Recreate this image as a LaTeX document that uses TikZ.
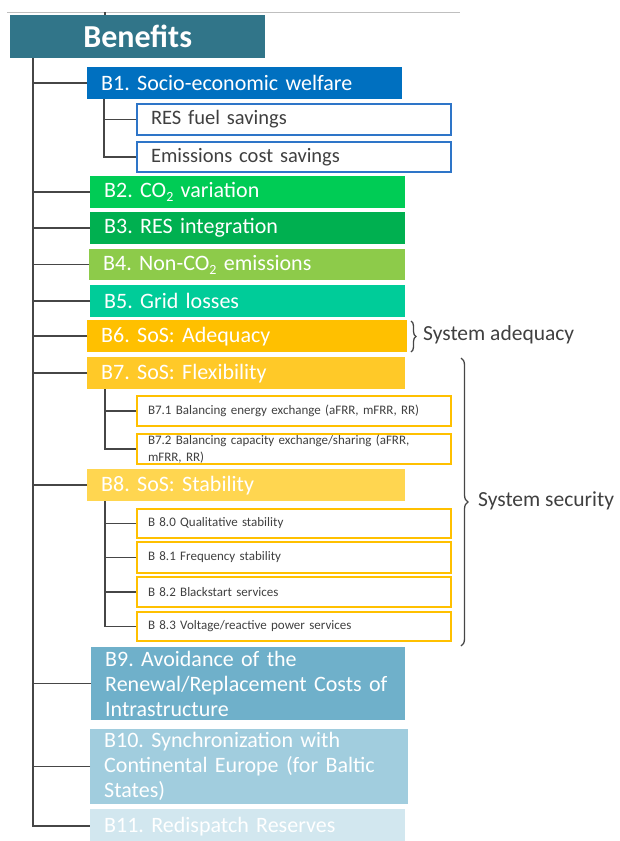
\documentclass[tikz,border=0pt]{standalone}
\usepackage{fontspec}
\setmainfont{Carlito}
\usetikzlibrary{decorations.pathreplacing}
\frenchspacing
\newcommand{\subtwo}{\raisebox{-0.35ex}{\fontsize{14}{14}\selectfont 2}}
\definecolor{benC}{RGB}{49,117,137}
\definecolor{bA}{RGB}{0,112,192}
\definecolor{bAline}{RGB}{46,117,200}
\definecolor{bB}{RGB}{0,204,85}
\definecolor{bC}{RGB}{0,176,80}
\definecolor{bD}{RGB}{141,203,74}
\definecolor{bE}{RGB}{0,204,153}
\definecolor{bF}{RGB}{255,192,0}
\definecolor{bG}{RGB}{255,201,40}
\definecolor{bH}{RGB}{255,214,80}
\definecolor{bHline}{RGB}{255,192,0}
\definecolor{bI}{RGB}{111,176,202}
\definecolor{bJ}{RGB}{161,205,222}
\definecolor{bK}{RGB}{210,231,239}
\definecolor{lineC}{RGB}{70,70,70}
\definecolor{txtC}{RGB}{64,64,64}
\begin{document}
\begin{tikzpicture}[x=1pt,y=-1pt,
  bbox/.style={rectangle, anchor=north west, inner xsep=14pt, inner ysep=0pt,
    align=left, text=white, font=\fontsize{22}{25}\selectfont},
  subbox/.style={rectangle, anchor=north west, inner xsep=14pt, inner ysep=0pt,
    align=left, fill=white, text=txtC, line width=2pt, draw=bAline,
    font=\fontsize{20.5}{23}\selectfont},
  smallbox/.style={rectangle, anchor=north west, inner xsep=11pt, inner ysep=0pt,
    align=left, fill=white, text=txtC, line width=2pt, draw=bHline,
    font=\fontsize{13}{17}\selectfont},
  conn/.style={draw=lineC, line width=1.5pt},
  bracestyle/.style={draw=lineC, line width=1.3pt, decorate},
  lbl/.style={anchor=west, text=txtC, inner sep=0pt, font=\fontsize{21.5}{24}\selectfont}
]
\useasboundingbox (0,0) rectangle (620,841);
\clip (0,0) rectangle (620,841);

% top rule
\coordinate (rl) at (7,12);
\coordinate (rr) at (460,12);
\draw[draw=black!25, line width=1pt] (rl) -- (rr);
\coordinate (stubtop) at (105,12);

% header
\node[rectangle, anchor=north west, fill=benC, minimum width=255pt, minimum height=43pt,
  text=white, font=\fontsize{32}{36}\bfseries, inner sep=0pt] (ben) at (10,15) {Benefits};
\draw[conn] (stubtop) -- (stubtop |- ben.north);

% main boxes
\node[bbox, fill=bA, text width=287pt, minimum height=32pt] (b1) at (87,67) {B1. Socio-economic welfare};
\node[subbox, text width=286pt, minimum height=31pt] (r1) at (136,103) {RES fuel savings};
\node[subbox, text width=286pt, minimum height=30pt] (r2) at (136,141) {Emissions cost savings};
\node[bbox, fill=bB, text width=287pt, minimum height=32pt] (b2) at (90,176) {B2. CO\subtwo{} variation};
\node[bbox, fill=bC, text width=287pt, minimum height=32pt] (b3) at (90,212) {B3. RES integration};
\node[bbox, fill=bD, text width=288pt, minimum height=31pt] (b4) at (89,249) {B4. Non-CO\subtwo{} emissions};
\node[bbox, fill=bE, text width=287pt, minimum height=32pt] (b5) at (90,285) {B5. Grid losses};
\node[bbox, fill=bF, text width=292pt, minimum height=32pt] (b6) at (87,320) {B6. SoS: Adequacy};
\node[bbox, fill=bG, text width=290pt, minimum height=32pt] (b7) at (87,357) {B7. SoS: Flexibility};
\node[smallbox, text width=292pt, minimum height=30pt] (s71) at (136,395) {B7.1 Balancing energy exchange (aFRR, mFRR, RR)};
\node[smallbox, text width=292pt, minimum height=30pt] (s72) at (136,433) {B7.2 Balancing capacity exchange/sharing (aFRR,\\ mFRR, RR)};
\node[bbox, fill=bH, text width=290pt, minimum height=32pt] (b8) at (87,469) {B8. SoS: Stability};
\node[smallbox, text width=292pt, minimum height=29pt] (s80) at (136,508) {B 8.0 Qualitative stability};
\node[smallbox, text width=292pt, minimum height=31pt] (s81) at (136,541) {B 8.1 Frequency stability};
\node[smallbox, text width=292pt, minimum height=30pt] (s82) at (136,576) {B 8.2 Blackstart services};
\node[smallbox, text width=292pt, minimum height=29pt] (s83) at (136,611) {B 8.3 Voltage/reactive power services};
\node[bbox, fill=bI, text width=286pt, minimum height=73pt] (b9) at (91,647) {B9. Avoidance of the\\ Renewal/Replacement Costs of\\ Intrastructure};
\node[bbox, fill=bJ, text width=290pt, minimum height=75pt] (b10) at (90,729) {B10. Synchronization with\\ Continental Europe (for Baltic\\ States)};
\node[bbox, fill=bK, text width=287pt, minimum height=34pt] (b11) at (90,809) {B11. Redispatch Reserves};

% trunk
\coordinate (trunk) at (33,58);
\draw[conn] (trunk) |- (b11.west);
\foreach \n in {b1,b2,b3,b4,b5,b6,b7,b8,b9,b10}{
  \draw[conn] (\n.west) -- (\n.west -| trunk);
}
% sub branches
\coordinate (t1) at (104,99);
\draw[conn] (t1) |- (r2.west);
\draw[conn] (r1.west) -- (r1.west -| t1);
\coordinate (t7) at (105,389);
\draw[conn] (t7) |- (s72.west);
\draw[conn] (s71.west) -- (s71.west -| t7);
\coordinate (t8) at (105,501);
\draw[conn] (t8) |- (s83.west);
\foreach \n in {s80,s81,s82}{
  \draw[conn] (\n.west) -- (\n.west -| t8);
}

% braces
\coordinate (ba1) at (411,321);
\coordinate (ba2) at (411,352);
\draw[bracestyle, decoration={brace, amplitude=5pt}] (ba1) -- (ba2);
\node[lbl] (sa) at (423,335) {System adequacy};
\coordinate (bs1) at (461,358);
\coordinate (bs2) at (461,646);
\draw[bracestyle, decoration={brace, amplitude=7pt}] (bs1) -- (bs2);
\node[lbl] (ss) at (478,501) {System security};
\end{tikzpicture}
\end{document}
